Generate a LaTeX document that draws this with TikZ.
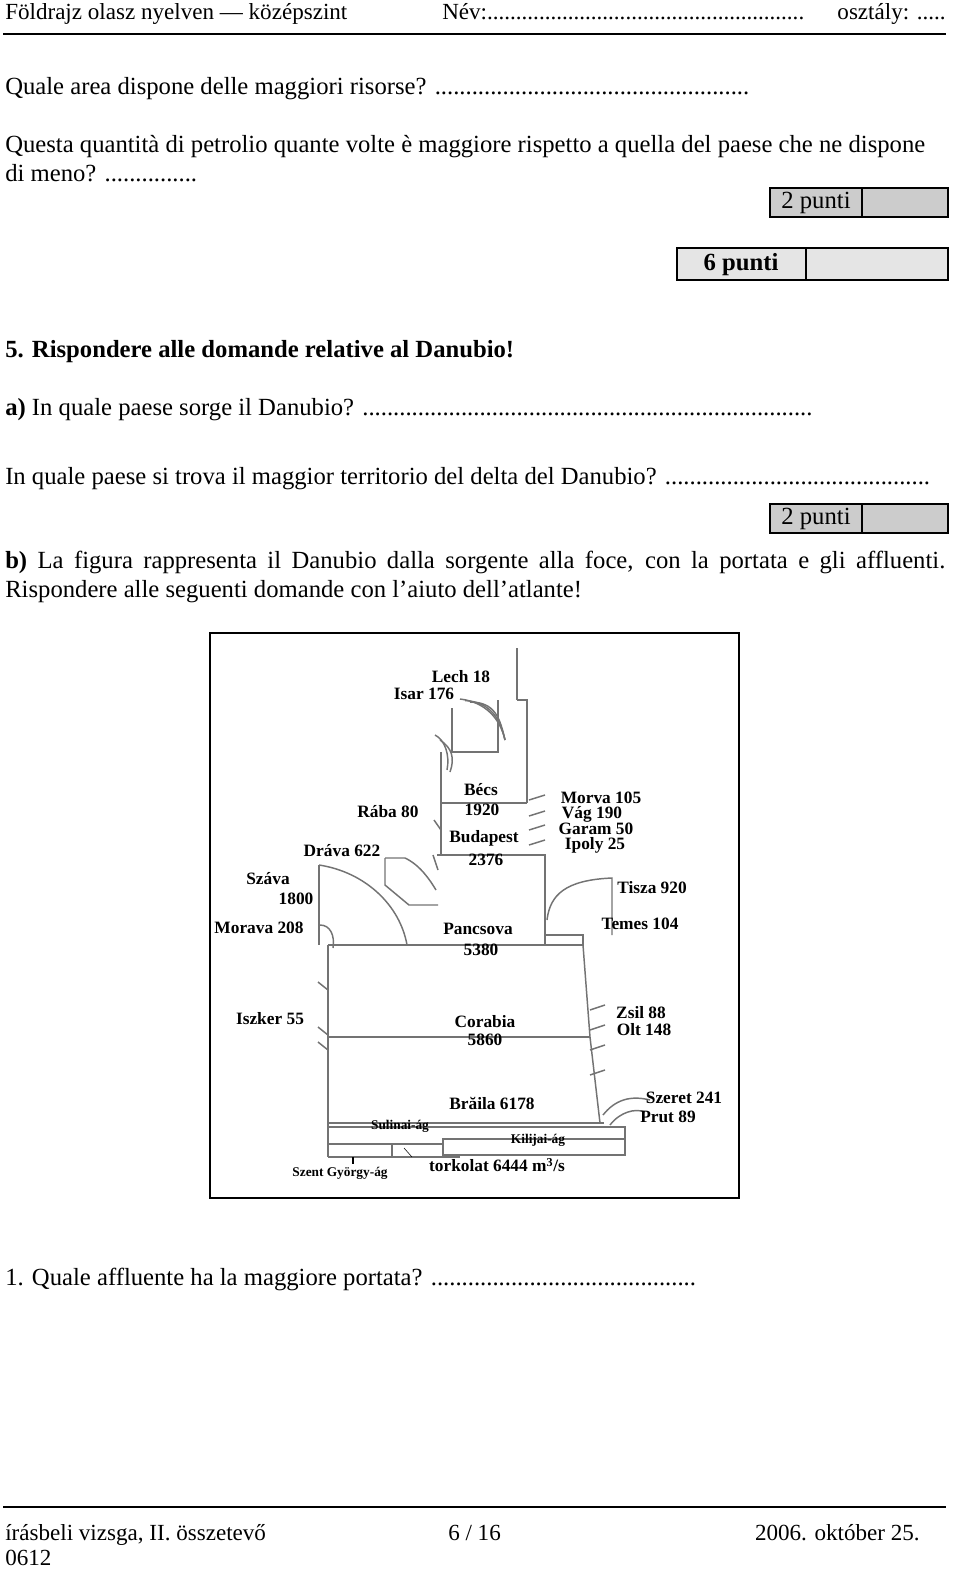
\documentclass[tikz,border=0pt]{standalone}
\usepackage{fontspec}
\setmainfont{Liberation Serif}
\newcommand{\pt}[1]{\fontsize{#1}{#1}\selectfont}
\tikzset{
  txt/.style={anchor=base west,inner sep=0pt,font=\pt{18.5}},
  lab/.style={inner sep=0pt,font=\pt{13}\bfseries},
  sml/.style={inner sep=0pt,font=\pt{10}\bfseries},
  riv/.style={draw=black!55,line width=1.1pt},
  box/.style={draw,fill=black!20,line width=.8pt},
}
\begin{document}
\begin{tikzpicture}[x=0.75pt,y=-0.75pt]
\useasboundingbox (0,0) rectangle (960,1579);

% header
\node[txt,font=\pt{17.3}] (hl) at (5,19) {Földrajz olasz nyelven — középszint};
\node[txt,font=\pt{17.3}] (hm) at (442,19) {Név:.......................................................};
\node[txt,font=\pt{17.3},anchor=base east] (hr) at (946,19) {osztály: .....};
\draw[line width=1.6pt] (3,34) -- (946,34);

% questions
\node[txt] (q1) at (5,94) {Quale area dispone delle maggiori risorse? ...................................................};
\node[txt] (q2) at (5,152) {Questa quantità di petrolio quante volte è maggiore rispetto a quella del paese che ne dispone};
\node[txt] (q3) at (5,181) {di meno? ...............};

% points boxes
\draw[box] (770,188) rectangle (948,217);
\draw[line width=.8pt] (862,188) -- (862,217);
\node[inner sep=0pt,font=\pt{18.5}] (p1) at (816,203) {2 punti};
\draw[box,fill=black!10,line width=2pt] (677,248) rectangle (948,280);
\draw[line width=2pt] (806,248) -- (806,280);
\node[inner sep=0pt,font=\pt{18.5}\bfseries] (p2) at (741,265) {6 punti};

\node[txt,font=\pt{18.5}\bfseries] (h5) at (5,357) {5. Rispondere alle domande relative al Danubio!};
\node[txt] (qa) at (5,415) {\textbf{a)} In quale paese sorge il Danubio? .........................................................................};
\node[txt] (qb) at (5,484) {In quale paese si trova il maggior territorio del delta del Danubio? ...........................................};
\draw[box] (770,504) rectangle (948,533);
\draw[line width=.8pt] (862,504) -- (862,533);
\node[inner sep=0pt,font=\pt{18.5}] (p3) at (816,519) {2 punti};
\node[txt] (b1) at (5,568) {\hbox to 705pt{\textbf{b)} La figura rappresenta il Danubio dalla sorgente alla foce, con la portata e gli affluenti.}};
\node[txt] (b2) at (5,597) {Rispondere alle seguenti domande con l’aiuto dell’atlante!};

% diagram frame
\draw[line width=1.5pt] (210,633) rectangle (739,1198);

% upper course
\draw[riv,line width=2pt] (517,648) -- (517,700);
\draw[riv] (517,700) -- (527,700) -- (527,803);
\draw[riv] (441,752) -- (441,855);
\draw[riv] (441,803) -- (527,803);
\draw[riv] (437,855) -- (545,855) -- (545,945);
\draw[riv] (328,945) -- (583,945);
\draw[riv] (583,945) -- (590,1037) -- (600,1123);
\draw[riv] (328,945) -- (328,1157);
\draw[riv] (328,1037) -- (590,1037);
\draw[riv] (328,1123) -- (604,1123);
% delta
\draw[riv] (328,1127) -- (625,1127) -- (625,1155);
\draw[riv] (443,1139) rectangle (625,1155);
\draw[riv] (328,1144) -- (443,1144);
\draw[riv] (392,1144) -- (392,1157);
\draw[riv] (328,1157) -- (460,1157);
\draw[line width=.8pt] (353,1157) -- (353,1164);
\draw[line width=.4pt] (404,1148) -- (412,1157);

% tributary fans
\draw[riv] (452,708) -- (452,752) -- (498,752) -- (498,700);
\foreach \d in {0,5,10}
  \draw[riv] (460+\d,699+\d*0.3) .. controls (485+\d,702) and (500,718) .. (505,740);
\draw[riv] (435,735) .. controls (445,740) and (450,755) .. (447,770);
\draw[riv] (440,740) .. controls (452,748) and (455,758) .. (450,772);
% Drava / Szava
\draw[riv] (319,865) -- (319,945);
\draw[riv] (319,865) .. controls (365,872) and (400,905) .. (407,945);
\draw[riv] (385,858) -- (405,858) .. controls (420,865) and (430,880) .. (436,890);
\draw[riv] (385,858) -- (385,885) -- (409,905) -- (438,905);
\draw[riv] (320,925) .. controls (330,925) and (335,935) .. (333,948);
% Tisza / Temes
\draw[riv] (547,920) .. controls (550,895) and (565,880) .. (612,878) -- (612,935);
\draw[riv] (545,935) -- (583,935) -- (583,945);
% right small tributaries
\foreach \y in {800,816,830,845}
  \draw[riv] (529,\y) -- (545,\y-5);
\foreach \y in {1010,1030,1050,1075}
  \draw[riv] (590,\y) -- (605,\y-5);
\draw[riv] (603,1115) .. controls (615,1100) and (630,1095) .. (650,1100);
\draw[riv] (610,1125) .. controls (620,1112) and (635,1108) .. (645,1112);
% left small tributaries
\foreach \y in {990,1035,1050}
  \draw[riv] (318,\y-8) -- (328,\y);
\draw[riv] (434,820) -- (441,830);
\draw[riv] (433,855) -- (438,870);

% labels
\node[lab] (lech) at (461,677) {Lech 18};
\node[lab] (isar) at (424,694) {Isar 176};
\node[lab] (becs) at (481,790) {Bécs};
\node[lab] (becsq) at (482,810) {1920};
\node[lab] (morva) at (601,798) {Morva 105};
\node[lab] (vag) at (592,814) {Vág 190};
\node[lab] (garam) at (596,829) {Garam 50};
\node[lab] (ipoly) at (595,845) {Ipoly 25};
\node[lab] (raba) at (388,812) {Rába 80};
\node[lab] (bp) at (484,838) {Budapest};
\node[lab] (bpq) at (486,860) {2376};
\node[lab] (drava) at (342,851) {Dráva 622};
\node[lab] (szava) at (268,879) {Száva};
\node[lab] (szavaq) at (296,899) {1800};
\node[lab] (tisza) at (652,888) {Tisza 920};
\node[lab] (morava) at (259,928) {Morava 208};
\node[lab] (temes) at (640,924) {Temes 104};
\node[lab] (panc) at (478,929) {Pancsova};
\node[lab] (pancq) at (481,950) {5380};
\node[lab] (iszker) at (270,1019) {Iszker 55};
\node[lab] (cor) at (485,1022) {Corabia};
\node[lab] (corq) at (485,1040) {5860};
\node[lab] (zsil) at (641,1013) {Zsil 88};
\node[lab] (olt) at (644,1030) {Olt 148};
\node[lab] (braila) at (492,1103) {Brăila 6178};
\node[lab] (szeret) at (684,1098) {Szeret 241};
\node[lab] (prut) at (668,1117) {Prut 89};
\node[sml] (sul) at (400,1126) {Sulinai-ág};
\node[sml] (kil) at (538,1140) {Kilijai-ág};
\node[sml] (szgy) at (340,1173) {Szent György-ág};
\node[lab] (tork) at (497,1165) {torkolat 6444 m\textsuperscript{3}/s};

\node[txt] (q4) at (5,1285) {1. Quale affluente ha la maggiore portata? ...........................................};

% footer
\draw[line width=1.6pt] (3,1507) -- (946,1507);
\node[txt,font=\pt{17.3}] (f1) at (5,1540) {írásbeli vizsga, II. összetevő};
\node[txt,font=\pt{17.3}] (f2) at (448,1540) {6 / 16};
\node[txt,font=\pt{17.3},anchor=base east] (f3) at (920,1540) {2006. október 25.};
\node[txt,font=\pt{17.3}] (f4) at (5,1565) {0612};
\end{tikzpicture}
\end{document}
